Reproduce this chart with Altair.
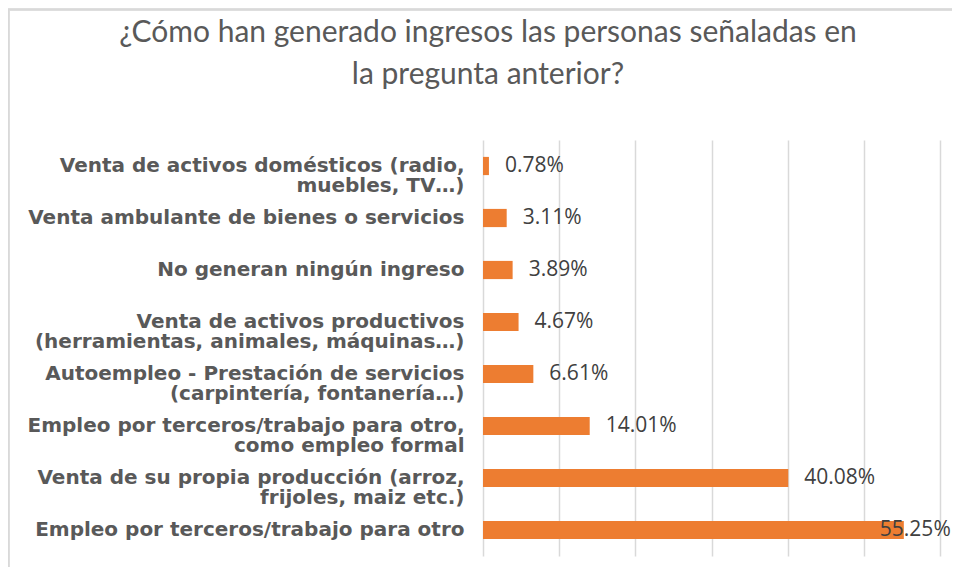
import altair as alt
import pandas as pd

categories = [
    "Venta de activos domésticos (radio,|muebles, TV…)",
    "Venta ambulante de bienes o servicios",
    "No generan ningún ingreso",
    "Venta de activos productivos|(herramientas, animales, máquinas…)",
    "Autoempleo - Prestación de servicios|(carpintería, fontanería…)",
    "Empleo por terceros/trabajo para otro,|como empleo formal",
    "Venta de su propia producción (arroz,|frijoles, maiz etc.)",
    "Empleo por terceros/trabajo para otro",
]
values = [0.78, 3.11, 3.89, 4.67, 6.61, 14.01, 40.08, 55.25]
grid_ticks = [0, 10, 20, 30, 40, 50, 60]
title_lines = ["¿Cómo han generado ingresos las personas señaladas en", "la pregunta anterior?"]

df = pd.DataFrame({"cat": categories, "v": values})

W, H = 457, 416

xscale = alt.Scale(domain=[0, 60], nice=False)
yscale = alt.Scale(paddingInner=0.65, paddingOuter=0.325)

base = alt.Chart(df)

bars = base.mark_bar(color="#ED7D31").encode(
    x=alt.X("v:Q", scale=xscale,
            axis=alt.Axis(values=grid_ticks, labels=False, ticks=False, domain=False,
                          grid=True, gridColor="#d9d9d9", gridWidth=1.5, title=None)),
    y=alt.Y("cat:N", sort=categories, scale=yscale,
            axis=alt.Axis(title=None, ticks=False, domain=False, grid=False,
                          labelExpr="split(datum.label, '|')",
                          labelFont="DejaVu Sans", labelFontWeight="bold",
                          labelFontSize=20, labelColor="#595959",
                          labelLineHeight=20, labelLimit=600, labelPadding=19,
                          labelAlign="right")),
)

labels = base.transform_calculate(
    pos="min(datum.v, 50)",
    txt="format(datum.v, '.2f') + '%'",
).mark_text(align="left", baseline="middle", dx=16, font="Open Sans",
            fontSize=21, color="#404040").encode(
    x=alt.X("pos:Q", scale=xscale),
    y=alt.Y("cat:N", sort=categories, scale=yscale),
    text="txt:N",
)

title_df = pd.DataFrame({"t": [title_lines]})
title_mark = alt.Chart(title_df).mark_text(
    font="Lato", fontSize=30, color="#595959", align="center", baseline="alphabetic",
    lineHeight=41.5,
).encode(x=alt.value(5), y=alt.value(-98), text="t")

frame_left = alt.Chart(df).mark_rule(color="#d9d9d9", strokeWidth=1.5).encode(
    x=alt.value(-474.5), y=alt.value(-131), y2=alt.value(H + 11)
)
frame_top = alt.Chart(df).mark_rule(color="#d9d9d9", strokeWidth=1.5).encode(
    x=alt.value(-475), x2=alt.value(W + 12), y=alt.value(-130.5)
)

chart = alt.layer(frame_left, frame_top, title_mark, bars, labels).properties(
    width=W, height=H,
    autosize=alt.AutoSizeParams(type="none"),
    padding={"left": 475, "top": 132, "right": 12, "bottom": 11},
).configure_view(stroke=None)

chart.save("out.html", embed_options={"renderer": "svg", "actions": False})
